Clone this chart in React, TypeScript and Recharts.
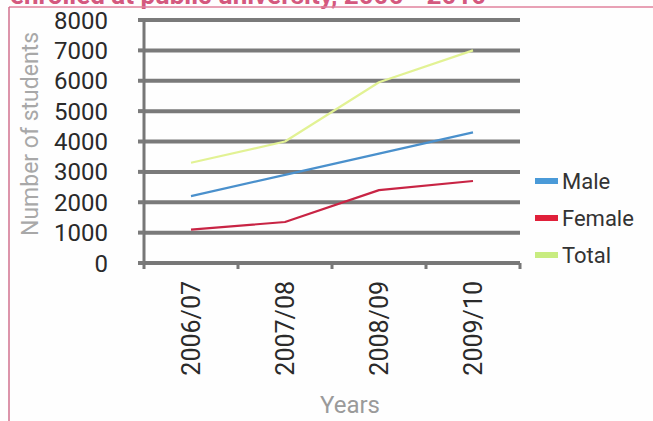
import React from 'react';
import { LineChart, Line, XAxis, YAxis, CartesianGrid } from 'recharts';

const years = ['2006/07', '2007/08', '2008/09', '2009/10'];
const male = [2200, 2900, 3600, 4300];
const female = [1100, 1350, 2400, 2700];
const total = [3300, 4000, 5950, 7000];
const yTicks = [0, 1000, 2000, 3000, 4000, 5000, 6000, 7000, 8000];

const series = [
  { key: 'male', name: 'Male', color: '#4a90cc', swatch: '#4a9ad8' },
  { key: 'female', name: 'Female', color: '#c82444', swatch: '#e0203a' },
  { key: 'total', name: 'Total', color: '#e2f294', swatch: '#c8ec80' },
];

const data = years.map((year, i) => ({ year, male: male[i], female: female[i], total: total[i] }));

const FONT = 'Roboto, "DejaVu Sans", sans-serif';
const TICK_MARGIN = 18;
const TICK_LEN = 6;

const XTick = (props: any) => {
  const { x, y, payload, width, index } = props;
  const band = width / years.length;
  const axisY = y - TICK_MARGIN;
  const left = x - band / 2;
  const right = x + band / 2;
  return (
    <g>
      <line x1={left} y1={axisY} x2={left} y2={axisY + TICK_LEN} stroke="#777" strokeWidth={3} />
      {index === years.length - 1 && (
        <line x1={right} y1={axisY} x2={right} y2={axisY + TICK_LEN} stroke="#777" strokeWidth={3} />
      )}
      <text
        x={x}
        y={y}
        transform={`rotate(-90 ${x} ${y})`}
        textAnchor="end"
        dy="0.36em"
        fill="#2a2a2a"
        fontSize={25}
        fontFamily={FONT}
      >
        {payload.value}
      </text>
    </g>
  );
};

export default function App() {
  return (
    <div style={{ position: 'absolute', left: 0, top: 0, width: 653, height: 421, overflow: 'hidden', background: '#fefefe' }}>
      <div style={{ position: 'absolute', left: 0, top: 0 }}>
        <LineChart width={653} height={421} data={data} margin={{ top: 20, right: 133, bottom: 0, left: 0 }}>
          <CartesianGrid vertical={false} stroke="#7a7a7a" strokeWidth={4} />
          <XAxis
            dataKey="year"
            scale="band"
            height={158}
            interval={0}
            tickSize={0}
            tickMargin={TICK_MARGIN}
            tickLine={false}
            axisLine={{ stroke: '#777', strokeWidth: 3 }}
            tick={<XTick />}
          />
          <YAxis
            width={144}
            domain={[0, 8000]}
            ticks={yTicks}
            interval={0}
            tickSize={6}
            tickMargin={30}
            axisLine={{ stroke: '#777', strokeWidth: 3 }}
            tickLine={{ stroke: '#7a7a7a', strokeWidth: 4 }}
            tick={{ fill: '#2a2a2a', fontSize: 24, fontFamily: FONT }}
          />
          {series.map((s) => (
            <Line
              key={s.key}
              type="linear"
              dataKey={s.key}
              name={s.name}
              stroke={s.color}
              strokeWidth={2.2}
              strokeLinejoin="round"
              dot={false}
              isAnimationActive={false}
            />
          ))}
        </LineChart>
      </div>
      <svg width={653} height={421} style={{ position: 'absolute', left: 0, top: 0, pointerEvents: 'none' }}>
        <text x={10} y={4} fill="#d4587e" fontSize={26} fontWeight="bold" fontFamily={FONT}>
          enrolled at public university, 2006 - 2010
        </text>
        <line x1={9} y1={7} x2={653} y2={7} stroke="#e0829c" strokeWidth={1.5} />
        <line x1={9} y1={7} x2={9} y2={421} stroke="#d0708e" strokeWidth={1.5} />
        <text
          x={30}
          y={134}
          transform="rotate(-90 30 134)"
          textAnchor="middle"
          dy="0.36em"
          fill="#a8a8a8"
          fontSize={23}
          fontFamily={FONT}
        >
          Number of students
        </text>
        <text x={350} y={413} textAnchor="middle" fill="#9a9a9a" fontSize={24} fontFamily={FONT}>
          Years
        </text>
        {series.map((s, i) => (
          <g key={s.key}>
            <rect x={535} y={178 + 37 * i} width={23} height={6} fill={s.swatch} />
            <text x={562} y={181 + 37 * i} dy="0.36em" fill="#333" fontSize={22} fontFamily={FONT}>
              {s.name}
            </text>
          </g>
        ))}
      </svg>
    </div>
  );
}
